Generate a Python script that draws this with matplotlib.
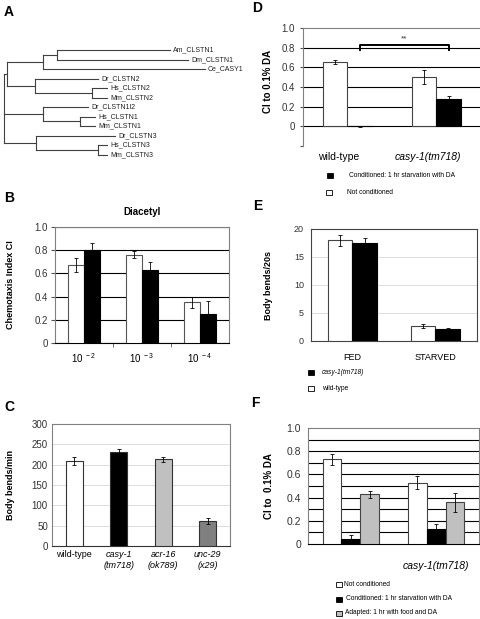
import numpy as np
import matplotlib
matplotlib.use('Agg')
import matplotlib.pyplot as plt
from matplotlib.patches import Rectangle

plt.rcParams['font.family'] = ['Liberation Sans', 'DejaVu Sans']
plt.rcParams['mathtext.fontset'] = 'custom'
plt.rcParams['mathtext.rm'] = 'Liberation Sans'
plt.rcParams['mathtext.default'] = 'regular'

W, H = 481, 619

# ---- data ----
# A: tree (leaf order top to bottom, branch depths)
leaf_names = ['Am_CLSTN1', 'Dm_CLSTN1', 'Ce_CASY1', 'Dr_CLSTN2', 'Hs_CLSTN2', 'Mm_CLSTN2',
              'Dr_CLSTN1l2', 'Hs_CLSTN1', 'Mm_CLSTN1', 'Dr_CLSTN3', 'Hs_CLSTN3', 'Mm_CLSTN3']
leaf_depth = [170, 188, 205, 98, 107, 107, 88, 95, 95, 115, 107, 107]
# internal node: (depth, children), ints are leaf indices
tree = (4, [(7, [(43, [(57, [0, 1]), 2]), (35, [3, (92, [4, 5])])]),
            (43, [6, (80, [7, 8])]),
            (36, [9, (98, [10, 11])])])

# B: chemotaxis to diacetyl
b_conc = ['10$^{\\ -2}$', '10$^{\\ -3}$', '10$^{\\ -4}$']
b_white = [0.67, 0.76, 0.35]
b_white_err = [0.06, 0.03, 0.05]
b_black = [0.80, 0.63, 0.25]
b_black_err = [0.06, 0.07, 0.11]

# C: body bends per minute
c_strains = ['wild-type', 'casy-1\n(tm718)', 'acr-16\n(ok789)', 'unc-29\n(x29)']
c_vals = [210, 230, 213, 62]
c_err = [10, 8, 6, 7]
c_colors = ['white', 'black', '#c0c0c0', '#808080']

# D: CI to DA, conditioning
d_groups = ['wild-type', 'casy-1(tm718)']
d_not = [0.65, 0.50]
d_not_err = [0.02, 0.07]
d_cond = [0.0, 0.28]
d_cond_err = [0.005, 0.03]

# E: body bends / 20 s
e_groups = ['FED', 'STARVED']
e_wt = [18.0, 2.7]
e_wt_err = [1.0, 0.4]
e_casy = [17.5, 2.1]
e_casy_err = [0.9, 0.3]

# F: CI to DA, adaptation
f_groups = ['', 'casy-1(tm718)']
f_not = [0.73, 0.53]
f_not_err = [0.05, 0.06]
f_cond = [0.04, 0.13]
f_cond_err = [0.04, 0.04]
f_adapt = [0.43, 0.36]
f_adapt_err = [0.03, 0.08]

GRAY = '#c0c0c0'
DGRAY = '#808080'

fig = plt.figure(figsize=(W / 100, H / 100), dpi=100)


def add_ax(l, t, r, b):
    return fig.add_axes([l / W, 1 - b / H, (r - l) / W, (b - t) / H])


def letter(x, y, s):
    fig.text(x / W, 1 - y / H, s, fontsize=10, fontweight='bold', va='center', ha='left')


def legend_item(x, y, color, text, tx, italic=False):
    fig.add_artist(Rectangle((x / W, 1 - (y + 2.5) / H), 6 / W, 5 / H,
                             facecolor=color, edgecolor='black', lw=0.6,
                             transform=fig.transFigure))
    fig.text(tx / W, 1 - y / H, text, fontsize=4.8, va='center', ha='left',
             style='italic' if italic else 'normal')


def errs(ax, x, v, e):
    ax.errorbar(x, v, yerr=e, fmt='none', ecolor='black', elinewidth=0.6,
                capsize=1.5, capthick=0.6, zorder=4)


# ---- A: tree ----
axA = add_ax(0, 0, 240, 165)
axA.set_xlim(0, 240)
axA.set_ylim((165 - 50) / 9.5, -50 / 9.5)
axA.axis('off')
tc = '#404040'


def draw(node, parent_x):
    if isinstance(node, int):
        y = node
        axA.plot([parent_x, leaf_depth[node]], [y, y], color=tc, lw=0.8)
        axA.text(leaf_depth[node] + 3, y, leaf_names[node], fontsize=5,
                 va='center', ha='left', color='#222222')
        return y
    depth, kids = node
    ys = [draw(k, depth) for k in kids]
    axA.plot([depth, depth], [min(ys), max(ys)], color=tc, lw=0.8)
    y = (min(ys) + max(ys)) / 2
    if parent_x is not None:
        axA.plot([parent_x, depth], [y, y], color=tc, lw=0.8)
    return y


draw(tree, None)
letter(4, 12, 'A')

# ---- B ----
axB = add_ax(55, 227, 229, 343)
x = np.arange(3) + 0.5
w = 0.28
axB.set_axisbelow(True)
axB.grid(axis='y', color='black', lw=0.8)
axB.bar(x - w / 2, b_white, w, color='white', edgecolor='#555555', lw=0.8, zorder=3)
axB.bar(x + w / 2, b_black, w, color='black', edgecolor='black', lw=0.8, zorder=3)
errs(axB, x - w / 2, b_white, b_white_err)
errs(axB, x + w / 2, b_black, b_black_err)
axB.set_xlim(0, 3)
axB.set_ylim(0, 1)
axB.set_yticks(np.arange(0, 1.01, 0.2))
axB.set_yticklabels(['0', '0.2', '0.4', '0.6', '0.8', '1.0'], fontsize=7, color='#333333')
axB.set_xticks(x)
axB.set_xticklabels(b_conc, fontsize=7)
axB.set_xticks([1, 2], minor=True)
axB.tick_params(axis='x', which='major', length=0, pad=6)
axB.tick_params(axis='x', which='minor', length=3, direction='out', color='#555555')
axB.tick_params(axis='y', length=3, color='#555555', pad=2)
for s in ['top', 'right', 'left']:
    axB.spines[s].set_color(DGRAY)
axB.spines['bottom'].set_color('black')
axB.set_title('Diacetyl', fontsize=7, fontweight='bold', pad=9)
axB.set_ylabel('Chemotaxis Index CI', fontsize=6.5, fontweight='bold')
axB.yaxis.set_label_coords(-0.23, 0.5)
letter(4, 198, 'B')

# ---- C ----
axC = add_ax(52, 424, 230, 546)
x = np.arange(4) + 0.5
axC.set_axisbelow(True)
axC.grid(axis='y', color='#dddddd', lw=0.7)
axC.bar(x, c_vals, 0.38, color=c_colors, edgecolor='#333333', lw=0.8, zorder=3)
errs(axC, x, c_vals, c_err)
axC.set_xlim(0, 4)
axC.set_ylim(0, 300)
axC.set_yticks(np.arange(0, 301, 50))
axC.tick_params(axis='y', labelsize=7, length=0, pad=3, labelcolor='#333333')
axC.set_xticks(x)
axC.set_xticklabels(c_strains, fontsize=6.5)
for i, lab in enumerate(axC.get_xticklabels()):
    if i > 0:
        lab.set_style('italic')
axC.tick_params(axis='x', length=0, pad=3)
for s in axC.spines.values():
    s.set_color(DGRAY)
axC.spines['bottom'].set_color('#333333')
axC.set_ylabel('Body bends/min', fontsize=6.5, fontweight='bold')
axC.yaxis.set_label_coords(-0.21, 0.5)
letter(4, 407, 'C')

# ---- D ----
axD = add_ax(303, 28, 481, 146)
x = np.arange(2) + 0.5
w = 0.27
axD.set_axisbelow(True)
axD.set_ylim(-0.2, 1.0)
axD.set_xlim(0, 2)
axD.set_yticks(np.arange(-0.2, 1.01, 0.2))
axD.set_yticklabels(['', '0', '0.2', '0.4', '0.6', '0.8', '1.0'], fontsize=7, color='#333333')
for v in np.arange(0, 0.81, 0.2):
    axD.axhline(v, color='black', lw=0.8, zorder=1)
axD.bar(x - w / 2, d_not, w, color='white', edgecolor='#444444', lw=0.8, zorder=3)
axD.bar(x + w / 2, d_cond, w, color='black', edgecolor='black', lw=0.8, zorder=3)
errs(axD, x - w / 2, d_not, d_not_err)
errs(axD, x + w / 2, d_cond, d_cond_err)
bx = x + w / 2
axD.plot([bx[0], bx[0], bx[1], bx[1]], [0.78, 0.83, 0.83, 0.78], color='black', lw=1.4, zorder=4)
axD.text(bx.mean(), 0.85, '**', fontsize=6, ha='center', va='bottom', color='#333333')
axD.set_xticks(x - 0.1)
axD.set_xticklabels(d_groups, fontsize=7.5)
axD.get_xticklabels()[1].set_style('italic')
axD.tick_params(axis='x', length=0, pad=4)
axD.tick_params(axis='y', length=2, color='#555555', pad=4)
axD.spines['right'].set_visible(False)
axD.spines['bottom'].set_visible(False)
axD.spines['left'].set_color(DGRAY)
axD.spines['top'].set_color(DGRAY)
axD.set_ylabel('CI to 0.1% DA', fontsize=7, fontweight='bold')
axD.yaxis.set_label_coords(-0.17, 0.55)
letter(252, 8, 'D')
legend_item(327, 175, 'black', 'Conditioned: 1 hr starvation with DA', 349)
legend_item(326, 192, 'white', 'Not conditioned', 347)

# ---- E ----
axE = add_ax(311, 229, 477, 341)
w = 0.29
axE.set_axisbelow(True)
axE.grid(axis='y', color='#dddddd', lw=0.7)
axE.bar(x - w / 2, e_wt, w, color='white', edgecolor='#444444', lw=0.8, zorder=3)
axE.bar(x + w / 2, e_casy, w, color='black', edgecolor='black', lw=0.8, zorder=3)
errs(axE, x - w / 2, e_wt, e_wt_err)
errs(axE, x + w / 2, e_casy, e_casy_err)
axE.set_xlim(0, 2)
axE.set_ylim(0, 20)
axE.set_yticks(np.arange(0, 21, 5))
axE.tick_params(axis='y', labelsize=6.5, length=0, pad=5, labelcolor='#333333')
axE.set_xticks(x)
axE.set_xticklabels(e_groups, fontsize=6.5)
axE.tick_params(axis='x', length=0, pad=9)
for s in axE.spines.values():
    s.set_color('#444444')
axE.set_ylabel('Body bends/20s', fontsize=6.5, fontweight='bold')
axE.yaxis.set_label_coords(-0.23, 0.5)
letter(253, 206, 'E')
legend_item(308, 372, 'black', 'casy-1(tm718)', 322, italic=True)
legend_item(308, 388, 'white', 'wild-type', 322)

# ---- F ----
axF = add_ax(308, 428, 479, 544)
w = 0.22
axF.set_axisbelow(True)
for v in np.arange(0.1, 0.95, 0.1):
    axF.axhline(v, color='black', lw=0.8, zorder=1)
axF.bar(x - w, f_not, w, color='white', edgecolor='#444444', lw=0.8, zorder=3)
axF.bar(x, f_cond, w, color='black', edgecolor='black', lw=0.8, zorder=3)
axF.bar(x + w, f_adapt, w, color=GRAY, edgecolor='#444444', lw=0.8, zorder=3)
errs(axF, x - w, f_not, f_not_err)
errs(axF, x, f_cond, f_cond_err)
errs(axF, x + w, f_adapt, f_adapt_err)
axF.set_xlim(0, 2)
axF.set_ylim(0, 1)
axF.set_yticks(np.arange(0, 1.01, 0.2))
axF.set_yticklabels(['0', '0.2', '0.4', '0.6', '0.8', '1.0'], fontsize=7.5, color='#333333')
axF.tick_params(axis='y', length=0, pad=5)
axF.set_xticks(x)
axF.set_xticklabels(f_groups, fontsize=7.5, style='italic')
axF.tick_params(axis='x', length=0, pad=12)
for s in axF.spines.values():
    s.set_color(DGRAY)
axF.spines['bottom'].set_color('black')
axF.set_ylabel('CI to  0.1% DA', fontsize=7, fontweight='bold')
axF.yaxis.set_label_coords(-0.2, 0.5)
letter(251, 403, 'F')
legend_item(336, 584, 'white', 'Not conditioned', 344)
legend_item(336, 599, 'black', 'Conditioned: 1 hr starvation with DA', 346)
legend_item(336, 613, GRAY, 'Adapted: 1 hr with food and DA', 345)

fig.savefig('out.png', dpi=100)
